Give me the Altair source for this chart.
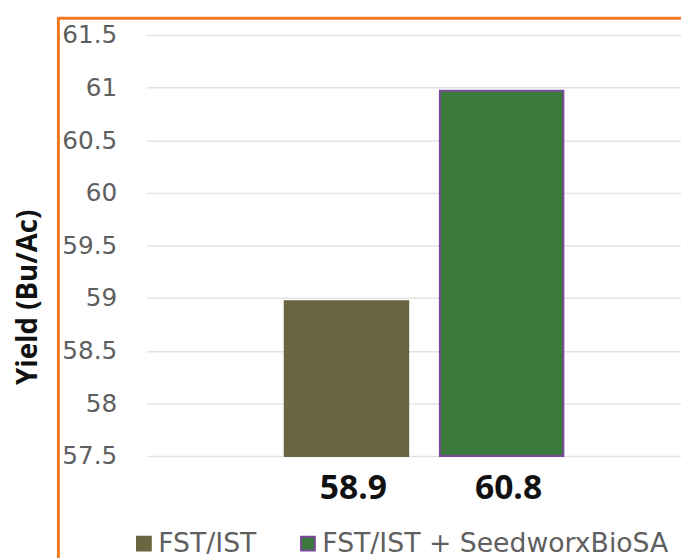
import altair as alt
import pandas as pd

categories = ["FST/IST", "FST/IST + SeedworxBioSA"]
values = [58.97, 60.97]
labels = ["58.9", "60.8"]
fill_colors = ["#6c6542", "#3b7a3b"]
stroke_colors = ["#6c6542", "#7b4a9e"]
y_ticks = [57.5, 58, 58.5, 59, 59.5, 60, 60.5, 61, 61.5]

df = pd.DataFrame({"cat": categories, "val": values, "lab": labels})

W, H = 541, 426

x_enc = alt.X("cat:N", axis=None, sort=categories,
              scale=alt.Scale(paddingInner=0.204, paddingOuter=0.825, align=0.5405))

legend_kw = dict(title=None, orient="none", direction="horizontal",
                 legendX=-16, legendY=501,
                 symbolType="square", symbolSize=196,
                 symbolStrokeWidth=2, labelFont="DejaVu Sans",
                 labelFontSize=27, labelColor="#5f5f5f", labelLimit=600,
                 labelOffset=1, columnPadding=38)

bars = alt.Chart(df).mark_bar(strokeWidth=2).encode(
    x=x_enc,
    y=alt.Y("val:Q",
            scale=alt.Scale(domain=[57.5, 61.5], nice=False, zero=False),
            axis=alt.Axis(values=y_ticks, format=".1~f", domain=False, ticks=False,
                          labelPadding=30, labelFont="DejaVu Sans", labelFontSize=25,
                          labelColor="#5f5f5f", gridColor="#e4e4e4", gridWidth=1.5,
                          title="Yield (Bu/Ac)", titleFont="Open Sans", titleFontSize=28,
                          titleFontWeight="bold", titleColor="#111111",
                          titleAngle=270, titleX=-119, titleY=265,
                          titleAlign="center", titleBaseline="middle")),
    y2=alt.datum(57.5),
    color=alt.Color("cat:N", sort=categories,
                    scale=alt.Scale(domain=categories, range=fill_colors),
                    legend=alt.Legend(**legend_kw)),
    stroke=alt.Stroke("cat:N", sort=categories,
                      scale=alt.Scale(domain=categories, range=stroke_colors),
                      legend=alt.Legend(**legend_kw)),
)

texts = alt.Chart(df).mark_text(font="Open Sans", fontSize=34, fontWeight="bold",
                                color="#111111", baseline="middle", dx=7).encode(
    x=x_enc,
    y=alt.value(460),
    text="lab:N",
)

frame_left = alt.Chart(df.head(1)).mark_rule(color="#f47a20", strokeWidth=3).encode(
    x=alt.value(-89), y=alt.value(-18), y2=alt.value(H + 120))
frame_top = alt.Chart(df.head(1)).mark_rule(color="#f47a20", strokeWidth=3).encode(
    x=alt.value(-90), x2=alt.value(W + 10), y=alt.value(-17))

chart = alt.layer(bars, texts, frame_left, frame_top).properties(
    width=W, height=H,
    autosize=alt.AutoSizeParams(type="none"),
    padding={"left": 140, "top": 24, "right": 0, "bottom": 100},
).configure_view(stroke=None)

chart.save("out.html", embed_options={"renderer": "svg", "actions": False})
